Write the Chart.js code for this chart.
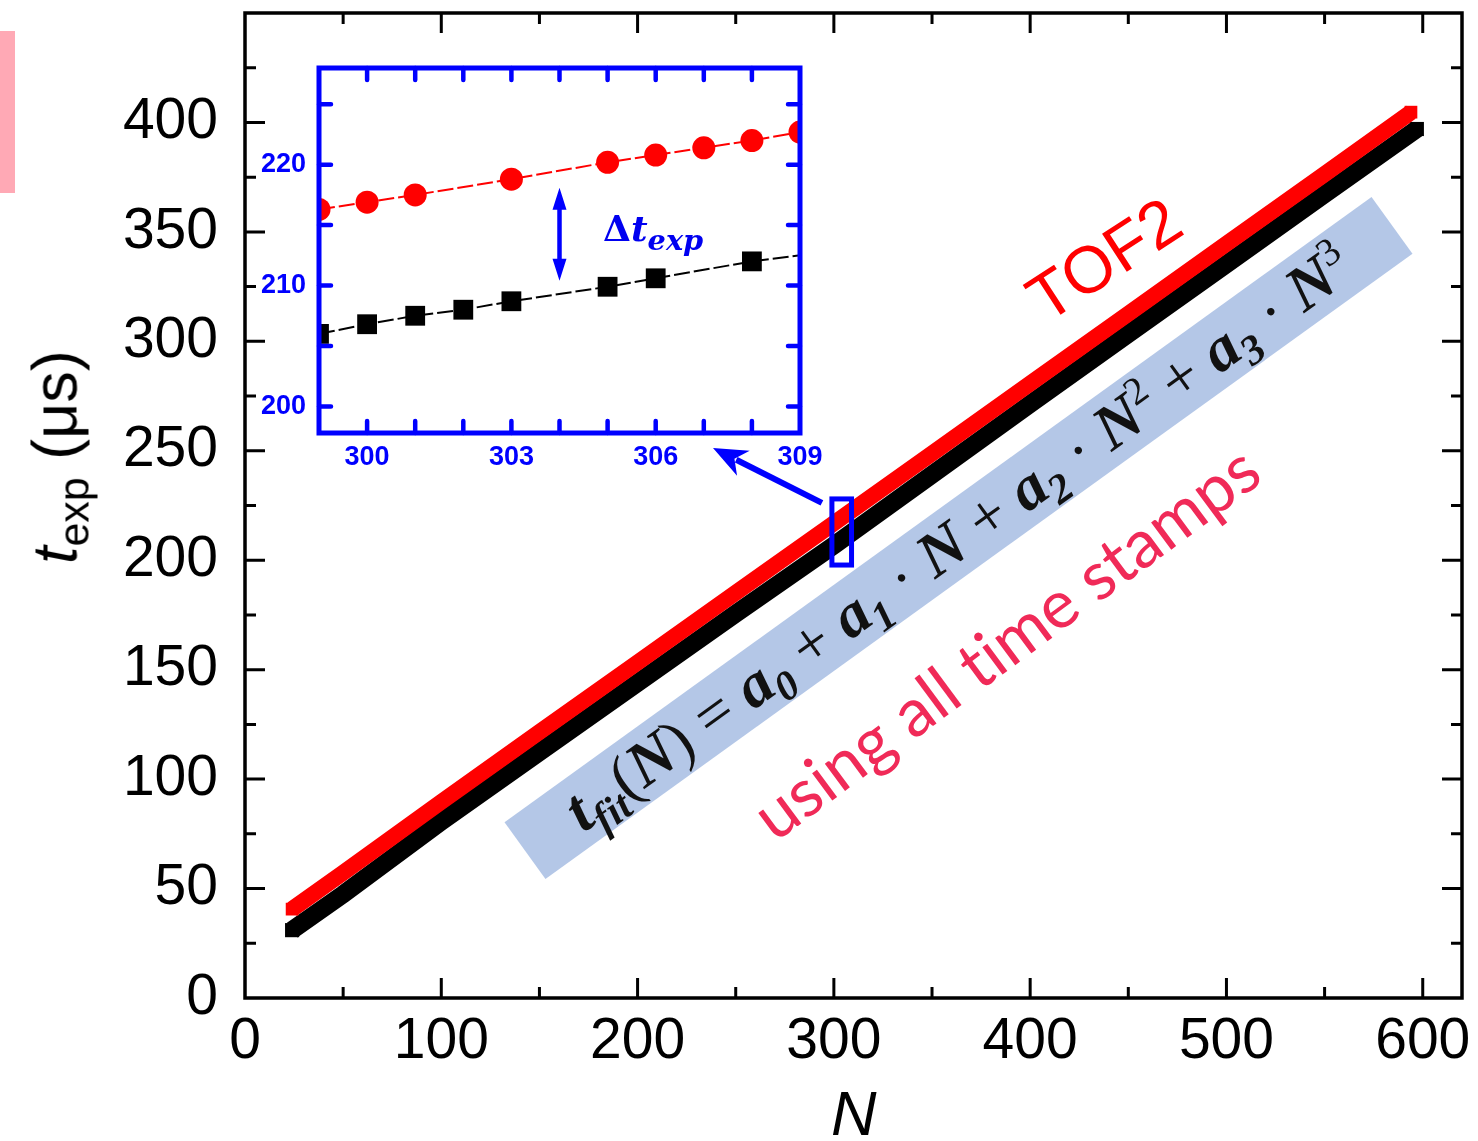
<!DOCTYPE html>
<html>
<head>
<meta charset="utf-8">
<script src="https://cdn.jsdelivr.net/npm/chart.js@4.4.1/dist/chart.umd.min.js"></script>
<style>
html,body{margin:0;padding:0;background:#fff;}
#wrap{position:relative;width:1478px;height:1141px;overflow:hidden;background:#fff;}
#main{position:absolute;left:0;top:0;}
#insetBox{position:absolute;left:240px;top:50px;width:600px;height:440px;}
.ann{position:absolute;white-space:nowrap;line-height:1;font-variant-ligatures:none;}
.sb{font-size:0.68em;position:relative;top:0.28em;}
#fbox{position:absolute;background:#B4C7E7;display:flex;align-items:center;justify-content:center;}
#ftext{font-family:'Liberation Serif','DejaVu Serif',serif;color:#111;white-space:nowrap;line-height:1;font-variant-ligatures:none;}
#ftext .b{font-weight:bold;font-style:italic;}
#ftext .s0{font-size:0.66em;position:relative;top:0.3em;font-weight:bold;font-style:italic;}
#ftext .s1{font-size:0.62em;position:relative;top:-0.6em;}
#pink{position:absolute;left:0;top:31px;width:15px;height:162px;background:#FFA9B5;}
</style>
</head>
<body>
<div id="wrap">
  <canvas id="main" width="1478" height="1141"></canvas>
  <div id="insetBox"><canvas id="inset" width="600" height="440"></canvas></div>
  <div id="pink"></div>
  <div id="ytitle" class="ann" style="font-family:'Liberation Sans',Arial,sans-serif;font-size:63px;color:#000;"><i>t</i><span class="sb">exp</span> (μs)</div>
  <div id="xtitle" class="ann" style="font-family:'Liberation Sans',Arial,sans-serif;font-size:63px;font-style:italic;color:#000;">N</div>
  <div id="tof" class="ann" style="font-family:'Liberation Sans',Arial,sans-serif;font-size:66px;color:#FF0000;">TOF2</div>
  <div id="fbox"><div id="ftext"><span class="b">t</span><span class="s0">fit</span>(<span class="b">N</span>) = <span class="b">a</span><span class="s0">0</span> + <span class="b">a</span><span class="s0">1</span> · <span class="b">N</span> + <span class="b">a</span><span class="s0">2</span> · <span class="b">N</span><span class="s1">2</span> + <span class="b">a</span><span class="s0">3</span> · <span class="b">N</span><span class="s1">3</span></div></div>
  <div id="using" class="ann" style="font-family:Lato,'Open Sans',sans-serif;font-size:62px;color:#F02A58;">using all time stamps</div>
  <div id="dt" class="ann" style="font-family:'DejaVu Serif','Liberation Serif',serif;font-size:36px;font-weight:bold;color:#0000F0;">Δ<i>t</i><i class="sb" style="font-size:0.8em;top:0.3em;">exp</i></div>
</div>
<script>
// ---------------- data ----------------
const xTickLabels = [0, 100, 200, 300, 400, 500, 600];
const yTickLabels = [0, 50, 100, 150, 200, 250, 300, 350, 400];

// TOF2 time stamps (red) and reference series (black), read along the bands
const redN   = [24, 50, 100, 150, 200, 250, 300, 350, 400, 450, 500, 550, 594];
const redT   = [40.6, 57.2, 89.6, 121.5, 153.3, 185.1, 216.9, 248.8, 280.7, 312.6, 344.6, 376.4, 404.7];
const blackN = [24, 50, 100, 150, 200, 250, 300, 350, 400, 450, 500, 550, 597];
const blackT = [31.0, 47.4, 80.6, 112.3, 144.0, 175.6, 206.8, 239.1, 271.4, 303.4, 335.3, 367.2, 397.0];

// inset (zoom of N = 299..309)
const insetXTickLabels = [300, 303, 306, 309];
const insetYTickLabels = [200, 210, 220];
const insetRedN   = [299, 300, 301, 303, 305, 306, 307, 308, 309];
const insetRedT   = [216.3, 216.9, 217.5, 218.8, 220.2, 220.8, 221.4, 222.0, 222.7];
const insetBlackN = [299, 300, 301, 302, 303, 305, 306, 308, 310];
const insetBlackT = [206.0, 206.8, 207.5, 208.0, 208.7, 209.9, 210.6, 212.0, 213.0];
const insetXRange = [299, 309];
const insetYRange = [197.8, 228];
const deltaN = 304, deltaTop = 218.1, deltaBottom = 210.4;

const pts = (xs, ys) => xs.map((v, i) => ({x: v, y: ys[i]}));
const SANS = "'Liberation Sans', Arial, sans-serif";
const endOnly = (n, r) => (ctx) => (ctx.dataIndex === 0 || ctx.dataIndex === n - 1) ? r : 0;

// ---------------- main chart ----------------
const mainDeco = {
  id: 'mainDeco',
  afterDatasetsDraw(chart) {
    const {ctx, chartArea: a, scales: {x, y}} = chart;
    ctx.save();
    ctx.strokeStyle = '#000';
    ctx.lineCap = 'butt';
    ctx.lineWidth = 3;
    ctx.beginPath();
    for (let v = 0; v <= 600; v += 50) {
      const px = x.getPixelForValue(v);
      const L = (v % 100 === 0) ? 20 : 11;
      if (px > a.left + 2) {
        ctx.moveTo(px, a.bottom); ctx.lineTo(px, a.bottom - L);
        ctx.moveTo(px, a.top); ctx.lineTo(px, a.top + L);
      }
    }
    for (let v = 0; v < 450; v += 25) {
      const py = y.getPixelForValue(v);
      const L = (v % 50 === 0) ? 20 : 11;
      if (py < a.bottom - 2) {
        ctx.moveTo(a.left, py); ctx.lineTo(a.left + L, py);
        ctx.moveTo(a.right, py); ctx.lineTo(a.right - L, py);
      }
    }
    ctx.stroke();
    ctx.lineWidth = 3.5;
    ctx.strokeRect(a.left, a.top, a.right - a.left, a.bottom - a.top);

    // zoom rectangle
    const rx1 = x.getPixelForValue(insetXRange[0]), rx2 = x.getPixelForValue(insetXRange[1]);
    const ry1 = y.getPixelForValue(insetYRange[1]), ry2 = y.getPixelForValue(insetYRange[0]);
    ctx.strokeStyle = '#0000FF';
    ctx.lineWidth = 5;
    ctx.strokeRect(rx1, ry1, rx2 - rx1, ry2 - ry1);

    // arrow to inset
    const tx = rx1 - 10, ty = ry1 + 4, hx = 713, hy = 448;
    const ang = Math.atan2(hy - ty, hx - tx);
    const hl = 34, hw = 14;
    const bx = hx - hl * Math.cos(ang), by = hy - hl * Math.sin(ang);
    ctx.lineWidth = 6;
    ctx.beginPath();
    ctx.moveTo(tx, ty);
    ctx.lineTo(hx - (hl - 8) * Math.cos(ang), hy - (hl - 8) * Math.sin(ang));
    ctx.stroke();
    ctx.fillStyle = '#0000FF';
    ctx.beginPath();
    ctx.moveTo(hx, hy);
    ctx.lineTo(bx + hw * Math.sin(ang), by - hw * Math.cos(ang));
    ctx.lineTo(hx - (hl - 10) * Math.cos(ang), hy - (hl - 10) * Math.sin(ang));
    ctx.lineTo(bx - hw * Math.sin(ang), by + hw * Math.cos(ang));
    ctx.closePath();
    ctx.fill();
    ctx.restore();
  }
};

new Chart(document.getElementById('main'), {
  type: 'line',
  data: {
    datasets: [
      {label: 'TOF2', data: pts(redN, redT), borderColor: '#FF0000', backgroundColor: '#FF0000',
       borderWidth: 16, pointStyle: 'rect', pointRadius: endOnly(redN.length, 9), pointBorderWidth: 0,
       tension: 0, order: 0, borderCapStyle: 'butt'},
      {label: 'reference', data: pts(blackN, blackT), borderColor: '#000000', backgroundColor: '#000000',
       borderWidth: 18, pointStyle: 'rect', pointRadius: endOnly(blackN.length, 10), pointBorderWidth: 0,
       tension: 0, order: 1, borderCapStyle: 'butt'}
    ]
  },
  options: {
    responsive: false, animation: false, devicePixelRatio: 1,
    layout: {padding: {left: 0, right: 16, top: 13, bottom: 0}},
    plugins: {legend: {display: false}, tooltip: {enabled: false}},
    scales: {
      x: {
        type: 'linear', min: 0, max: 620,
        afterFit: s => { s.height = 143; s.paddingLeft = 0; s.paddingRight = 0; },
        grid: {display: false, drawTicks: false}, border: {display: false},
        ticks: {stepSize: 100, includeBounds: false, autoSkip: false, maxRotation: 0, padding: 10,
                color: '#000', font: {family: SANS, size: 57},
                callback: v => xTickLabels.includes(v) ? String(v) : ''}
      },
      y: {
        type: 'linear', min: 0, max: 450,
        afterFit: s => { s.width = 245; s.paddingTop = 0; s.paddingBottom = 0; },
        grid: {display: false, drawTicks: false}, border: {display: false},
        ticks: {stepSize: 50, includeBounds: false, autoSkip: false, padding: 27,
                color: '#000', font: {family: SANS, size: 57},
                callback: v => yTickLabels.includes(v) ? String(v) : ''}
      }
    }
  },
  plugins: [mainDeco]
});

// ---------------- inset chart ----------------
const insetDeco = {
  id: 'insetDeco',
  beforeDatasetsDraw(chart) {
    const {ctx, chartArea: a} = chart;
    ctx.save();
    ctx.fillStyle = '#fff';
    ctx.fillRect(a.left, a.top, a.right - a.left, a.bottom - a.top);
    ctx.restore();
  },
  afterDatasetsDraw(chart) {
    const {ctx, chartArea: a, scales: {x, y}} = chart;
    ctx.save();
    ctx.strokeStyle = '#0000FF';
    ctx.lineWidth = 4.5;
    ctx.lineCap = 'round';
    ctx.beginPath();
    for (let v = insetXRange[0] + 1; v < insetXRange[1]; v++) {
      const px = x.getPixelForValue(v);
      ctx.moveTo(px, a.bottom); ctx.lineTo(px, a.bottom - 12);
      ctx.moveTo(px, a.top); ctx.lineTo(px, a.top + 12);
    }
    for (let v = 200; v < insetYRange[1]; v += 5) {
      const py = y.getPixelForValue(v);
      ctx.moveTo(a.left, py); ctx.lineTo(a.left + 12, py);
      ctx.moveTo(a.right, py); ctx.lineTo(a.right - 12, py);
    }
    ctx.stroke();
    ctx.lineCap = 'butt';
    ctx.lineWidth = 5;
    ctx.strokeRect(a.left, a.top, a.right - a.left, a.bottom - a.top);

    // double arrow (delta t)
    const ax = x.getPixelForValue(deltaN);
    const y1 = y.getPixelForValue(deltaTop), y2 = y.getPixelForValue(deltaBottom);
    const hl = 22, hw = 7;
    ctx.lineWidth = 4.5;
    ctx.beginPath();
    ctx.moveTo(ax, y1 + hl - 4); ctx.lineTo(ax, y2 - hl + 4);
    ctx.stroke();
    ctx.fillStyle = '#0000FF';
    ctx.beginPath();
    ctx.moveTo(ax, y1); ctx.lineTo(ax - hw, y1 + hl); ctx.lineTo(ax + hw, y1 + hl); ctx.closePath();
    ctx.moveTo(ax, y2); ctx.lineTo(ax - hw, y2 - hl); ctx.lineTo(ax + hw, y2 - hl); ctx.closePath();
    ctx.fill();
    ctx.restore();
  }
};

new Chart(document.getElementById('inset'), {
  type: 'line',
  data: {
    datasets: [
      {label: 'TOF2 zoom', data: pts(insetRedN, insetRedT), borderColor: '#FF0000', backgroundColor: '#FF0000',
       borderWidth: 2, borderDash: [16, 4], pointStyle: 'circle', pointRadius: 11.5, pointBorderWidth: 0,
       tension: 0, clip: 0, order: 0},
      {label: 'reference zoom', data: pts(insetBlackN, insetBlackT), borderColor: '#000000', backgroundColor: '#000000',
       borderWidth: 2, borderDash: [16, 4], pointStyle: 'rect', pointRadius: 14, pointBorderWidth: 0,
       tension: 0, clip: 0, order: 1}
    ]
  },
  options: {
    responsive: false, animation: false, devicePixelRatio: 1,
    layout: {padding: {left: 0, right: 40, top: 18, bottom: 0}},
    plugins: {legend: {display: false}, tooltip: {enabled: false}},
    scales: {
      x: {
        type: 'linear', min: insetXRange[0], max: insetXRange[1],
        afterFit: s => { s.height = 57; s.paddingLeft = 0; s.paddingRight = 0; },
        grid: {display: false, drawTicks: false}, border: {display: false},
        ticks: {stepSize: 1, includeBounds: false, autoSkip: false, maxRotation: 0, padding: 8,
                color: '#0000FF', font: {family: SANS, size: 27, weight: 'bold'},
                callback: v => insetXTickLabels.includes(v) ? String(v) : ''}
      },
      y: {
        type: 'linear', min: insetYRange[0], max: insetYRange[1],
        afterFit: s => { s.width = 79; s.paddingTop = 0; s.paddingBottom = 0; },
        grid: {display: false, drawTicks: false}, border: {display: false},
        ticks: {stepSize: 5, includeBounds: false, autoSkip: false, padding: 13,
                color: '#0000FF', font: {family: SANS, size: 27, weight: 'bold'},
                callback: v => insetYTickLabels.includes(v) ? String(v) : ''}
      }
    }
  },
  plugins: [insetDeco]
});

// ---------------- annotation placement ----------------
function place(id, cx, cy, deg) {
  const el = document.getElementById(id);
  el.style.left = cx + 'px';
  el.style.top = cy + 'px';
  el.style.transform = 'translate(-50%,-50%) rotate(' + deg + 'deg)';
}
function fitWidth(id, target) {
  const el = document.getElementById(id);
  const fs = parseFloat(getComputedStyle(el).fontSize);
  el.style.fontSize = (fs * target / el.offsetWidth) + 'px';
}
place('ytitle', 55, 457, -90);
const xt = document.getElementById('xtitle');
xt.style.left = (854 - xt.offsetWidth / 2) + 'px'; xt.style.top = '1082px';
place('tof', 1104, 259, -33);
fitWidth('using', 610);
place('using', 1005, 641, -36.5);
const fb = document.getElementById('fbox');
fb.style.width = '1069px'; fb.style.height = '70px';
fb.style.left = (958.5 - 534.5) + 'px'; fb.style.top = (538 - 35) + 'px';
fb.style.transform = 'rotate(-35.8deg)';
const ft = document.getElementById('ftext');
ft.style.fontSize = '48px';
ft.style.fontSize = (48 * 955 / ft.offsetWidth) + 'px';
const dt = document.getElementById('dt');
dt.style.left = '603px'; dt.style.top = '210px';
</script>
</body>
</html>
